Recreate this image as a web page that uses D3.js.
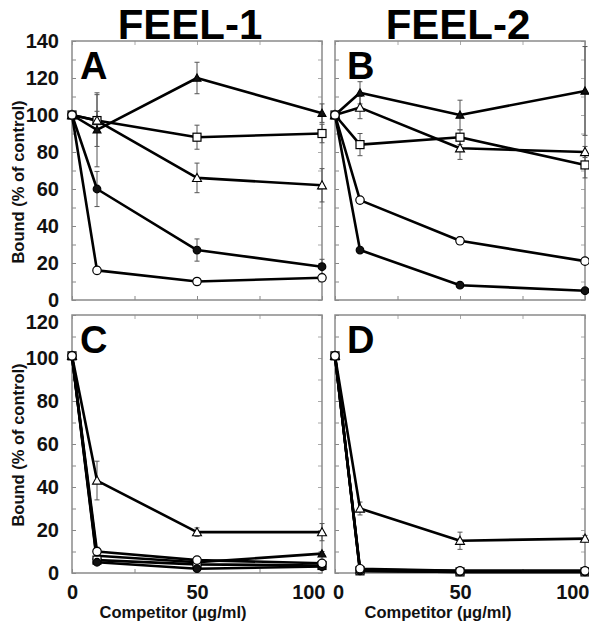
<!DOCTYPE html>
<html>
<head>
<meta charset="utf-8">
<script src="https://cdn.jsdelivr.net/npm/d3@7"></script>
<style>
  body { margin: 0; background: #fff; }
  text { font-family: "Liberation Sans", Arial, sans-serif; font-weight: bold; }
</style>
</head>
<body>
<div id="chart"></div>
<script>
// competitor concentrations (µg/ml)
const doses = [0, 10, 50, 100];
const xTicks = [0, 25, 50, 75, 100];
const xLabels = [0, 50, 100];

const columnTitles = ["FEEL-1", "FEEL-2"];
const panelLetters = ["A", "B", "C", "D"];
const yMaxTop = 140;
const yMaxBottom = 120;

// series markers, same order in every panel
const markers = ["filledTriangle", "openSquare", "openTriangle", "filledCircle", "openCircle"];

// panel A
const valuesA = [
  [100, 92, 120, 101],
  [100, 97, 88, 90],
  [100, 97, 66, 62],
  [100, 60, 27, 18],
  [100, 16, 10, 12]
];
const errorsA = [
  [0, 20, 8.5, 5],
  [0, 14, 6.5, 5],
  [0, 5, 8, 9],
  [0, 9.5, 6, 4],
  [0, 2, 1, 1]
];

// panel B
const valuesB = [
  [100, 112, 100, 113],
  [100, 84, 88, 73],
  [100, 104, 82, 80],
  [100, 27, 8, 5],
  [100, 54, 32, 21]
];
const errorsB = [
  [0, 6, 8, 24],
  [0, 6, 4, 7],
  [0, 6, 6, 3],
  [0, 1, 1, 1],
  [0, 1, 2, 1]
];

// panel C
const valuesC = [
  [101, 8, 5, 9],
  [101, 6, 4, 3.5],
  [101, 43, 19, 19],
  [101, 5, 2, 3],
  [101, 10, 6, 4.5]
];
const errorsC = [
  [0, 1, 1, 1],
  [0, 1, 1, 1],
  [0, 9, 2, 4],
  [0, 1, 1, 1],
  [0, 2, 1, 1]
];

// panel D
const valuesD = [
  [101, 1.5, 1, 1],
  [101, 1, 0.5, 0.5],
  [101, 30, 15, 16],
  [101, 1, 0.5, 0.5],
  [101, 2, 1, 1]
];
const errorsD = [
  [0, 0.5, 0.5, 0.5],
  [0, 0.5, 0.5, 0.5],
  [0, 3, 4, 1.5],
  [0, 0.5, 0.5, 0.5],
  [0, 0.5, 0.5, 0.5]
];

const width = 589, height = 622;
const cols = [[72, 322], [335, 585]];
const rows = [[300, 41], [573, 315]];

const svg = d3.select("#chart").append("svg")
  .attr("width", width)
  .attr("height", height);

const panels = [
  { letter: "A", col: 0, row: 0, yMax: yMaxTop, values: valuesA, errors: errorsA },
  { letter: "B", col: 1, row: 0, yMax: yMaxTop, values: valuesB, errors: errorsB },
  { letter: "C", col: 0, row: 1, yMax: yMaxBottom, values: valuesC, errors: errorsC },
  { letter: "D", col: 1, row: 1, yMax: yMaxBottom, values: valuesD, errors: errorsD }
];

function drawMarker(g, kind, x, y) {
  const filled = kind.startsWith("filled");
  if (kind.endsWith("Square")) {
    g.append("rect").attr("x", x - 4).attr("y", y - 4).attr("width", 8).attr("height", 8)
      .attr("fill", "#fff").attr("stroke", "#000").attr("stroke-width", 1.2);
  } else if (kind.endsWith("Circle")) {
    g.append("circle").attr("cx", x).attr("cy", y).attr("r", filled ? 3.8 : 4.2)
      .attr("fill", filled ? "#111" : "#fff").attr("stroke", "#000").attr("stroke-width", 1.2);
  } else {
    const s = filled ? 4 : 4.5;
    g.append("path")
      .attr("d", `M${x},${y - s}L${x + s},${y + s * 0.8}L${x - s},${y + s * 0.8}Z`)
      .attr("fill", filled ? "#111" : "#fff").attr("stroke", "#000").attr("stroke-width", 1.1);
  }
}

panels.forEach((p) => {
  const x = d3.scaleLinear().domain([0, 100]).range(cols[p.col]);
  const y = d3.scaleLinear().domain([0, p.yMax]).range(rows[p.row]);
  const g = svg.append("g");
  const showY = p.col === 0;
  const showX = p.row === 1;

  const yTicks = d3.range(0, p.yMax + 1, 10);

  // inward ticks, left and right
  const left = g.append("g")
    .attr("transform", `translate(${x.range()[0]},0)`)
    .call(d3.axisLeft(y).tickValues(yTicks).tickSizeInner(-4).tickSizeOuter(0)
      .tickPadding(13)
      .tickFormat((d) => (showY && d % 20 === 0 ? d : "")));
  left.select(".domain").remove();
  left.selectAll("line").attr("stroke", "#888");
  left.selectAll("text").attr("font-size", 20).attr("fill", "#111");
  if (p.row === 1) {
    left.selectAll("text").filter((d) => d === p.yMax).attr("dy", "0.65em");
  }

  const right = g.append("g")
    .attr("transform", `translate(${x.range()[1]},0)`)
    .call(d3.axisRight(y).tickValues(yTicks).tickSizeInner(-4).tickSizeOuter(0).tickFormat(""));
  right.select(".domain").remove();
  right.selectAll("line").attr("stroke", "#aaa");

  const bottom = g.append("g")
    .attr("transform", `translate(0,${y.range()[0]})`)
    .call(d3.axisBottom(x).tickValues(xTicks).tickSizeInner(-4).tickSizeOuter(0)
      .tickPadding(12)
      .tickFormat((d) => (showX && xLabels.includes(d) ? d : "")));
  bottom.select(".domain").remove();
  bottom.selectAll("line").attr("stroke", "#888");
  bottom.selectAll("text").attr("font-size", 20).attr("fill", "#111");
  bottom.selectAll("text").filter((d) => d === 100)
    .attr("text-anchor", "end").attr("dx", p.col === 0 ? 3 : 4);
  if (p.col === 1) {
    bottom.selectAll("text").filter((d) => d === 0).attr("dx", 3);
  }

  const top = g.append("g")
    .attr("transform", `translate(0,${y.range()[1]})`)
    .call(d3.axisTop(x).tickValues(xTicks).tickSizeInner(-4).tickSizeOuter(0).tickFormat(""));
  top.select(".domain").remove();
  top.selectAll("line").attr("stroke", "#aaa");

  // frame
  g.append("rect")
    .attr("x", x.range()[0]).attr("y", y.range()[1])
    .attr("width", x.range()[1] - x.range()[0])
    .attr("height", y.range()[0] - y.range()[1])
    .attr("fill", "none").attr("stroke", "#8a8a8a").attr("stroke-width", 1.5);

  // error bars
  const eb = g.append("g").attr("stroke", "#555").attr("stroke-width", 1);
  p.values.forEach((vals, si) => {
    vals.forEach((v, i) => {
      const e = p.errors[si][i];
      if (!e) return;
      const cx = x(doses[i]);
      eb.append("line").attr("x1", cx).attr("x2", cx).attr("y1", y(v - e)).attr("y2", y(v + e));
      [v - e, v + e].forEach((t) => {
        eb.append("line").attr("x1", cx - 2.5).attr("x2", cx + 2.5).attr("y1", y(t)).attr("y2", y(t));
      });
    });
  });

  // lines
  const line = d3.line().x((d, i) => x(doses[i])).y((d) => y(d));
  p.values.forEach((vals) => {
    g.append("path").datum(vals)
      .attr("d", line)
      .attr("fill", "none").attr("stroke", "#000").attr("stroke-width", 2.6)
      .attr("stroke-linejoin", "round");
  });

  // markers
  p.values.forEach((vals, si) => {
    vals.forEach((v, i) => drawMarker(g, markers[si], x(doses[i]), y(v)));
  });

  // panel letter
  g.append("text")
    .attr("x", x.range()[0] + (p.col === 0 ? 8 : 12))
    .attr("y", y.range()[1] + 38)
    .attr("font-size", 38)
    .attr("fill", "#000")
    .text(p.letter);

  if (showY) {
    const yc = p.row === 0 ? 182 : 445;
    g.append("text")
      .attr("transform", `translate(24,${yc}) rotate(-90)`)
      .attr("text-anchor", "middle")
      .attr("font-size", 16.5)
      .attr("fill", "#111")
      .text("Bound (% of control)");
  }
  if (showX) {
    g.append("text")
      .attr("x", p.col === 0 ? 173 : 438)
      .attr("y", 618)
      .attr("text-anchor", "middle")
      .attr("font-size", 16.5)
      .attr("fill", "#111")
      .text("Competitor (µg/ml)");
  }
});

// column titles
columnTitles.forEach((t, i) => {
  svg.append("text")
    .attr("x", i === 0 ? 190 : 458)
    .attr("y", 39)
    .attr("text-anchor", "middle")
    .attr("font-size", 42)
    .attr("fill", "#000")
    .text(t);
});
</script>
</body>
</html>
